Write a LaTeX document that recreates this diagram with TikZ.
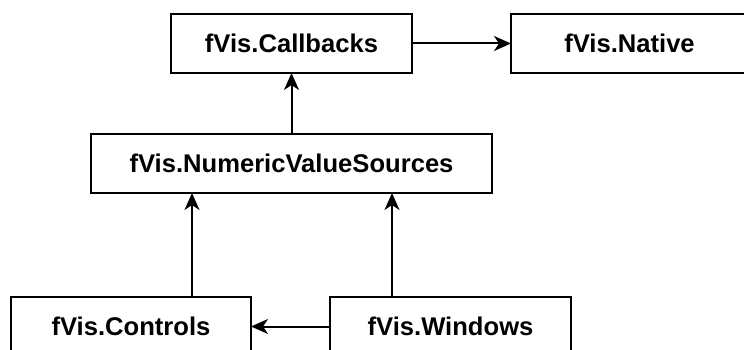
\documentclass[tikz,border=0pt]{standalone}
\usepackage{fontspec}
\setmainfont{Liberation Sans}
\usetikzlibrary{arrows.meta}
\begin{document}
\begin{tikzpicture}[x=1pt,y=1pt,
  box/.style={draw=black, line width=2pt, fill=white, inner sep=0pt, outer sep=0pt,
    minimum height=59pt, font=\fontsize{25.6}{30}\selectfont\bfseries},
  arr/.style={line width=2pt, -{Stealth[length=17pt,width=15pt,inset=5pt]}}]
\useasboundingbox (0,0) rectangle (744,-350);
\clip (0,0) rectangle (744,-350);
\node[box, minimum width=241pt] (cb) at (291.5,-43.5) {fVis.Callbacks};
\node[box, minimum width=241pt] (nat) at (631.5,-43.5) {\hspace*{-4pt}fVis.Native};
\node[box, minimum width=401pt] (nvs) at (291.5,-163.5) {fVis.NumericValueSources};
\node[box, minimum width=240pt] (ctl) at (131,-326.5) {fVis.Controls};
\node[box, minimum width=241pt] (win) at (450.5,-326.5) {fVis.Windows};
\coordinate (c1) at (192,0);
\coordinate (c2) at (392,0);
\draw[arr] (cb.east) -- (nat.west);
\draw[arr] (nvs.north) -- (cb.south);
\draw[arr] (ctl.north -| c1) -- (nvs.south -| c1);
\draw[arr] (win.north -| c2) -- (nvs.south -| c2);
\draw[arr] (win.west) -- (ctl.east);
\end{tikzpicture}
\end{document}
